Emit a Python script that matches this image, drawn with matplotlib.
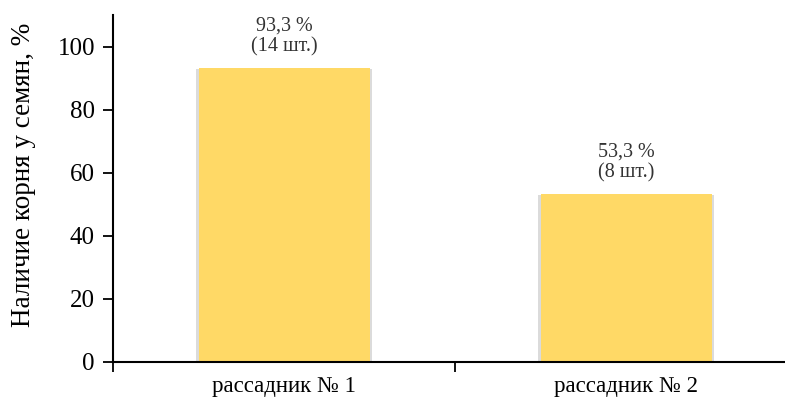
import numpy as np
import matplotlib.pyplot as plt
import matplotlib.patheffects as pe

plt.rcParams['font.family'] = ['Liberation Serif', 'DejaVu Serif']

categories = ['рассадник № 1', 'рассадник № 2']
percent = [93.3, 53.3]
counts = [14, 8]

fig = plt.figure(figsize=(7.85, 4.03), dpi=100)
ax = fig.add_axes([113 / 785, 1 - 362 / 403, 684 / 785, 347 / 403])

x = np.arange(len(categories))
bars = ax.bar(x, percent, width=0.5, color='#FFD966', zorder=2)
for b in bars:
    b.set_path_effects([pe.SimplePatchShadow(offset=(1.5, -1), shadow_rgbFace='#999999', alpha=0.35),
                        pe.SimplePatchShadow(offset=(-1.5, -1), shadow_rgbFace='#999999', alpha=0.35),
                        pe.Normal()])

for xi, p, c in zip(x, percent, counts):
    ax.text(xi, p + 3.5, f'{p:.1f} %'.replace('.', ',') + f'\n({c} шт.)',
            ha='center', va='bottom', fontsize=14.5, color='#333333', linespacing=1.15)

ax.set_xlim(-0.5, 1.5)
ax.set_ylim(0, 110)
ax.set_yticks(np.arange(0, 101, 20))
ax.tick_params(axis='y', labelsize=18, direction='out', length=7, width=1.3, pad=6)

# category ticks between groups, labels centred under the bars
ax.set_xticks([-0.5, 0.5, 1.5])
ax.set_xticklabels([])
ax.set_xticks(x, minor=True)
ax.set_xticklabels(categories, minor=True)
ax.tick_params(axis='x', which='major', direction='out', length=7, width=1.3)
ax.tick_params(axis='x', which='minor', length=0, labelsize=16.5, pad=10)

for s in ['top', 'right']:
    ax.spines[s].set_visible(False)
for s in ['left', 'bottom']:
    ax.spines[s].set_linewidth(1.5)

ax.set_ylabel('Наличие корня у семян, %', fontsize=19.5)
ax.yaxis.set_label_coords(-0.112, 0.54)

fig.savefig('out.png', dpi=100)
